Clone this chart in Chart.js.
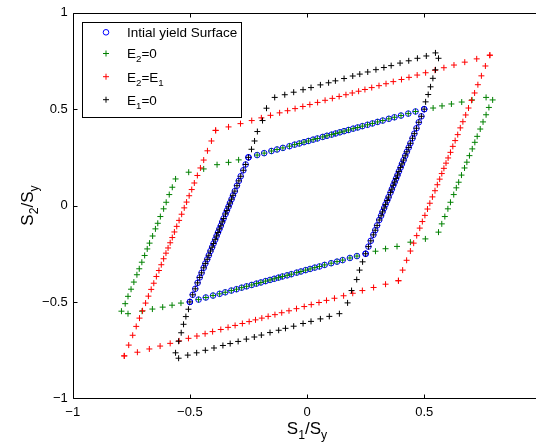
<!DOCTYPE html>
<html>
<head>
<meta charset="utf-8">
<script src="https://cdn.jsdelivr.net/npm/chart.js@4.4.1/dist/chart.umd.min.js"></script>
<style>
  html, body { margin: 0; padding: 0; background: #fff; overflow: hidden; }
  #wrap { width: 536px; height: 443px; overflow: hidden; }
</style>
</head>
<body>
<div id="wrap"><canvas id="c" width="551" height="443"></canvas></div>
<script>
// ticks
let xTickValues = [-1, -0.5, 0, 0.5, 1];
let xTickLabels = ['\u22121', '\u22120.5', '0', '0.5', '1'];
let yTickValues = [-1, -0.5, 0, 0.5, 1];
let yTickLabels = ['\u22121', '\u22120.5', '0', '0.5', '1'];

// initial yield surface, one array per edge
let initialTop = [[-0.25,0.25],[-0.213,0.262],[-0.183,0.272],[-0.152,0.283],[-0.128,0.291],[-0.103,0.299],[-0.075,0.308],[-0.053,0.316],[-0.033,0.322],[-0.013,0.329],[0.006,0.335],[0.026,0.342],[0.044,0.348],[0.067,0.356],[0.085,0.362],[0.105,0.368],[0.122,0.374],[0.14,0.38],[0.158,0.386],[0.177,0.392],[0.197,0.399],[0.216,0.405],[0.236,0.412],[0.258,0.419],[0.279,0.426],[0.301,0.434],[0.323,0.441],[0.349,0.45],[0.373,0.458],[0.401,0.467],[0.432,0.477],[0.463,0.488],[0.5,0.5]];
let initialRight = [[0.25,-0.25],[0.262,-0.213],[0.272,-0.183],[0.283,-0.152],[0.291,-0.128],[0.299,-0.103],[0.308,-0.075],[0.316,-0.053],[0.322,-0.033],[0.329,-0.013],[0.335,0.006],[0.342,0.026],[0.348,0.044],[0.356,0.067],[0.362,0.085],[0.368,0.105],[0.374,0.122],[0.38,0.14],[0.386,0.158],[0.392,0.177],[0.399,0.197],[0.405,0.216],[0.412,0.236],[0.419,0.258],[0.426,0.279],[0.434,0.301],[0.441,0.323],[0.45,0.349],[0.458,0.373],[0.467,0.401],[0.477,0.432],[0.488,0.463],[0.5,0.5]];
let initialBottom = [[0.25,-0.25],[0.213,-0.262],[0.183,-0.272],[0.152,-0.283],[0.128,-0.291],[0.103,-0.299],[0.075,-0.308],[0.053,-0.316],[0.033,-0.322],[0.013,-0.329],[-0.006,-0.335],[-0.026,-0.342],[-0.044,-0.348],[-0.067,-0.356],[-0.085,-0.362],[-0.105,-0.368],[-0.122,-0.374],[-0.14,-0.38],[-0.158,-0.386],[-0.177,-0.392],[-0.197,-0.399],[-0.216,-0.405],[-0.236,-0.412],[-0.258,-0.419],[-0.279,-0.426],[-0.301,-0.434],[-0.323,-0.441],[-0.349,-0.45],[-0.373,-0.458],[-0.401,-0.467],[-0.432,-0.477],[-0.463,-0.488],[-0.5,-0.5]];
let initialLeft = [[-0.25,0.25],[-0.262,0.213],[-0.272,0.183],[-0.283,0.152],[-0.291,0.128],[-0.299,0.103],[-0.308,0.075],[-0.316,0.053],[-0.322,0.033],[-0.329,0.013],[-0.335,-0.006],[-0.342,-0.026],[-0.348,-0.044],[-0.356,-0.067],[-0.362,-0.085],[-0.368,-0.105],[-0.374,-0.122],[-0.38,-0.14],[-0.386,-0.158],[-0.392,-0.177],[-0.399,-0.197],[-0.405,-0.216],[-0.412,-0.236],[-0.419,-0.258],[-0.426,-0.279],[-0.434,-0.301],[-0.441,-0.323],[-0.45,-0.349],[-0.458,-0.373],[-0.467,-0.401],[-0.477,-0.432],[-0.488,-0.463],[-0.5,-0.5]];

// E2=0 : follows the top/bottom edges, these are the parts outside
let e2ZeroRight = [[0.538,0.506],[0.576,0.517],[0.616,0.527],[0.66,0.537],[0.704,0.548],[0.764,0.561],[0.792,0.548],[0.776,0.509],[0.764,0.471],[0.751,0.434],[0.739,0.397],[0.726,0.359],[0.716,0.328],[0.705,0.294],[0.693,0.259],[0.682,0.225],[0.672,0.195],[0.659,0.158],[0.647,0.121],[0.637,0.092],[0.626,0.057],[0.612,0.017],[0.601,-0.017],[0.588,-0.057],[0.575,-0.095],[0.561,-0.138],[0.505,-0.173],[0.441,-0.19],[0.384,-0.212],[0.335,-0.224],[0.292,-0.237]];
let e2ZeroLeft = [[-0.538,-0.506],[-0.576,-0.517],[-0.616,-0.527],[-0.66,-0.537],[-0.704,-0.548],[-0.764,-0.561],[-0.792,-0.548],[-0.776,-0.509],[-0.764,-0.471],[-0.751,-0.434],[-0.739,-0.397],[-0.726,-0.359],[-0.716,-0.328],[-0.705,-0.294],[-0.693,-0.259],[-0.682,-0.225],[-0.672,-0.195],[-0.659,-0.158],[-0.647,-0.121],[-0.637,-0.092],[-0.626,-0.057],[-0.612,-0.017],[-0.601,0.017],[-0.588,0.057],[-0.575,0.095],[-0.561,0.138],[-0.505,0.173],[-0.441,0.19],[-0.384,0.212],[-0.335,0.224],[-0.292,0.237]];

// E1=0 : follows the steep edges, these are the parts outside
let e1ZeroTop = [[0.506,0.538],[0.517,0.576],[0.527,0.616],[0.537,0.66],[0.548,0.704],[0.561,0.764],[0.548,0.792],[0.509,0.776],[0.471,0.764],[0.434,0.751],[0.397,0.739],[0.359,0.726],[0.328,0.716],[0.294,0.705],[0.259,0.693],[0.225,0.682],[0.195,0.672],[0.158,0.659],[0.121,0.647],[0.092,0.637],[0.057,0.626],[0.017,0.612],[-0.017,0.601],[-0.057,0.588],[-0.095,0.575],[-0.138,0.561],[-0.173,0.505],[-0.19,0.441],[-0.212,0.384],[-0.224,0.335],[-0.237,0.292]];
let e1ZeroBottom = [[-0.506,-0.538],[-0.517,-0.576],[-0.527,-0.616],[-0.537,-0.66],[-0.548,-0.704],[-0.561,-0.764],[-0.548,-0.792],[-0.509,-0.776],[-0.471,-0.764],[-0.434,-0.751],[-0.397,-0.739],[-0.359,-0.726],[-0.328,-0.716],[-0.294,-0.705],[-0.259,-0.693],[-0.225,-0.682],[-0.195,-0.672],[-0.158,-0.659],[-0.121,-0.647],[-0.092,-0.637],[-0.057,-0.626],[-0.017,-0.612],[0.017,-0.601],[0.057,-0.588],[0.095,-0.575],[0.138,-0.561],[0.173,-0.505],[0.19,-0.441],[0.212,-0.384],[0.224,-0.335],[0.237,-0.292]];

// E2=E1
let eqTop = [[-0.39,0.39],[-0.335,0.408],[-0.284,0.425],[-0.236,0.441],[-0.195,0.455],[-0.156,0.468],[-0.117,0.481],[-0.083,0.492],[-0.051,0.503],[-0.018,0.514],[0.012,0.524],[0.045,0.535],[0.077,0.546],[0.108,0.556],[0.137,0.566],[0.166,0.575],[0.193,0.584],[0.22,0.593],[0.247,0.602],[0.276,0.612],[0.307,0.622],[0.337,0.632],[0.368,0.643],[0.403,0.654],[0.435,0.665],[0.47,0.677],[0.506,0.689],[0.546,0.702],[0.584,0.715],[0.627,0.729],[0.673,0.744],[0.724,0.761],[0.78,0.78]];
let eqRight = [[0.39,-0.39],[0.408,-0.335],[0.425,-0.284],[0.441,-0.236],[0.455,-0.195],[0.468,-0.156],[0.481,-0.117],[0.492,-0.083],[0.503,-0.051],[0.514,-0.018],[0.524,0.012],[0.535,0.045],[0.546,0.077],[0.556,0.108],[0.566,0.137],[0.575,0.166],[0.584,0.193],[0.593,0.22],[0.602,0.247],[0.612,0.276],[0.622,0.307],[0.632,0.337],[0.643,0.368],[0.654,0.403],[0.665,0.435],[0.677,0.47],[0.689,0.506],[0.702,0.546],[0.715,0.584],[0.729,0.627],[0.744,0.673],[0.761,0.724],[0.78,0.78]];
let eqBottom = [[0.39,-0.39],[0.335,-0.408],[0.284,-0.425],[0.236,-0.441],[0.195,-0.455],[0.156,-0.468],[0.117,-0.481],[0.083,-0.492],[0.051,-0.503],[0.018,-0.514],[-0.012,-0.524],[-0.045,-0.535],[-0.077,-0.546],[-0.108,-0.556],[-0.137,-0.566],[-0.166,-0.575],[-0.193,-0.584],[-0.22,-0.593],[-0.247,-0.602],[-0.276,-0.612],[-0.307,-0.622],[-0.337,-0.632],[-0.368,-0.643],[-0.403,-0.654],[-0.435,-0.665],[-0.47,-0.677],[-0.506,-0.689],[-0.546,-0.702],[-0.584,-0.715],[-0.627,-0.729],[-0.673,-0.744],[-0.724,-0.761],[-0.78,-0.78]];
let eqLeft = [[-0.39,0.39],[-0.408,0.335],[-0.425,0.284],[-0.441,0.236],[-0.455,0.195],[-0.468,0.156],[-0.481,0.117],[-0.492,0.083],[-0.503,0.051],[-0.514,0.018],[-0.524,-0.012],[-0.535,-0.045],[-0.546,-0.077],[-0.556,-0.108],[-0.566,-0.137],[-0.575,-0.166],[-0.584,-0.193],[-0.593,-0.22],[-0.602,-0.247],[-0.612,-0.276],[-0.622,-0.307],[-0.632,-0.337],[-0.643,-0.368],[-0.654,-0.403],[-0.665,-0.435],[-0.677,-0.47],[-0.689,-0.506],[-0.702,-0.546],[-0.715,-0.584],[-0.729,-0.627],[-0.744,-0.673],[-0.761,-0.724],[-0.78,-0.78]];

// legend names as [text, isSubscript] pieces
let seriesNames = [
  [['Intial yield Surface', 0]],
  [['E', 0], ['2', 1], ['=0', 0]],
  [['E', 0], ['2', 1], ['=E', 0], ['1', 1]],
  [['E', 0], ['1', 1], ['=0', 0]]
];
let seriesColors = ['#0000ff', '#008000', '#ff0000', '#000000'];
let xTitle = [['S', 0], ['1', 1], ['/S', 0], ['y', 1]];
let yTitle = [['S', 0], ['2', 1], ['/S', 0], ['y', 1]];

let FONT = '"Liberation Sans", Arial, Helvetica, sans-serif';

function subWidth(ctx, parts, size) {
  let w = 0;
  parts.forEach(([t, s]) => {
    ctx.font = (s ? size * 0.72 : size) + 'px ' + FONT;
    w += ctx.measureText(t).width;
  });
  return w;
}
function drawSub(ctx, parts, x, y, size) {
  parts.forEach(([t, s]) => {
    ctx.font = (s ? size * 0.72 : size) + 'px ' + FONT;
    ctx.fillText(t, x, y + (s ? size * 0.3 : 0));
    x += ctx.measureText(t).width;
  });
}

let matlabAxes = {
  id: 'matlabAxes',
  afterDatasetsDraw(chart) {
    let {ctx, chartArea: a, scales: {x, y}} = chart;
    ctx.save();
    ctx.strokeStyle = '#000';
    ctx.lineWidth = 1;
    let L = Math.round(a.left) + 0.5, R = Math.round(a.right) + 0.5;
    let T = Math.round(a.top) + 0.5, B = Math.round(a.bottom) + 0.5;
    ctx.beginPath();
    ctx.rect(L, T, R - L, B - T);
    xTickValues.forEach(v => {
      let px = Math.round(x.getPixelForValue(v)) + 0.5;
      ctx.moveTo(px, B); ctx.lineTo(px, B - 4);
      ctx.moveTo(px, T); ctx.lineTo(px, T + 4);
    });
    yTickValues.forEach(v => {
      let py = Math.round(y.getPixelForValue(v)) + 0.5;
      ctx.moveTo(L, py); ctx.lineTo(L + 4, py);
      ctx.moveTo(R, py); ctx.lineTo(R - 4, py);
    });
    ctx.stroke();

    // legend box
    let bx = Math.round(a.left + 9) + 0.5, by = Math.round(a.top + 9) + 0.5;
    ctx.fillStyle = '#fff';
    ctx.fillRect(bx, by, 159, 95);
    ctx.strokeRect(bx, by, 159, 95);
    let rows = [32.3, 53.5, 76.7, 99.7];
    seriesNames.forEach((parts, i) => {
      let ry = rows[i], mx = 106;
      ctx.strokeStyle = seriesColors[i];
      ctx.beginPath();
      if (i === 0) {
        ctx.arc(mx, ry, 2.8, 0, Math.PI * 2);
      } else {
        ctx.moveTo(mx - 3, ry); ctx.lineTo(mx + 3, ry);
        ctx.moveTo(mx, ry - 3); ctx.lineTo(mx, ry + 3);
      }
      ctx.stroke();
      ctx.fillStyle = '#000';
      ctx.textBaseline = 'alphabetic';
      ctx.textAlign = 'left';
      drawSub(ctx, parts, 127, ry + 4.8, 13.5);
    });

    // axis titles
    ctx.fillStyle = '#000';
    let ts = 17;
    let w = subWidth(ctx, xTitle, ts);
    drawSub(ctx, xTitle, 307 - w / 2, 434, ts);
    ctx.translate(33, (a.top + a.bottom) / 2);
    ctx.rotate(-Math.PI / 2);
    w = subWidth(ctx, yTitle, ts);
    drawSub(ctx, yTitle, -w / 2, 0, ts);
    ctx.restore();
  }
};

let tickFont = {family: FONT, size: 13};

new Chart(document.getElementById('c'), {
  type: 'scatter',
  data: {
    datasets: [
      {label: 'Intial yield Surface', data: initialTop.concat(initialRight, initialBottom, initialLeft),
       pointStyle: 'circle', radius: 2.8, borderWidth: 1, borderColor: seriesColors[0], backgroundColor: 'rgba(0,0,0,0)', order: 3},
      {label: 'E2=0', data: initialTop.slice(1, -1).concat(e2ZeroRight, initialBottom.slice(1, -1), e2ZeroLeft),
       pointStyle: 'cross', radius: 3, borderWidth: 1, borderColor: seriesColors[1], order: 2},
      {label: 'E2=E1', data: eqTop.concat(eqRight, eqBottom, eqLeft),
       pointStyle: 'cross', radius: 3, borderWidth: 1, borderColor: seriesColors[2], order: 1},
      {label: 'E1=0', data: initialRight.concat(e1ZeroTop, initialLeft, e1ZeroBottom),
       pointStyle: 'cross', radius: 3, borderWidth: 1, borderColor: seriesColors[3], order: 0}
    ]
  },
  options: {
    responsive: false,
    animation: false,
    devicePixelRatio: 1,
    layout: {padding: {top: 12, right: 0, left: 0, bottom: 0}},
    plugins: {legend: {display: false}, tooltip: {enabled: false}},
    elements: {point: {hoverRadius: 3}},
    scales: {
      x: {
        type: 'linear', min: -1, max: 1,
        grid: {display: false, drawTicks: false},
        border: {display: false},
        afterBuildTicks: s => { s.ticks = xTickValues.map(v => ({value: v})); },
        afterFit: s => { s.height = 44.7; },
        ticks: {font: tickFont, color: '#000', padding: 6, autoSkip: false, maxRotation: 0,
                callback: (v, i) => xTickLabels[i]}
      },
      y: {
        type: 'linear', min: -1, max: 1,
        grid: {display: false, drawTicks: false},
        border: {display: false},
        afterBuildTicks: s => { s.ticks = yTickValues.map(v => ({value: v})); },
        afterFit: s => { s.width = 72.7; },
        ticks: {font: tickFont, color: '#000', padding: 5, autoSkip: false,
                callback: (v, i) => yTickLabels[i]}
      }
    }
  },
  plugins: [matlabAxes]
});
</script>
</body>
</html>
